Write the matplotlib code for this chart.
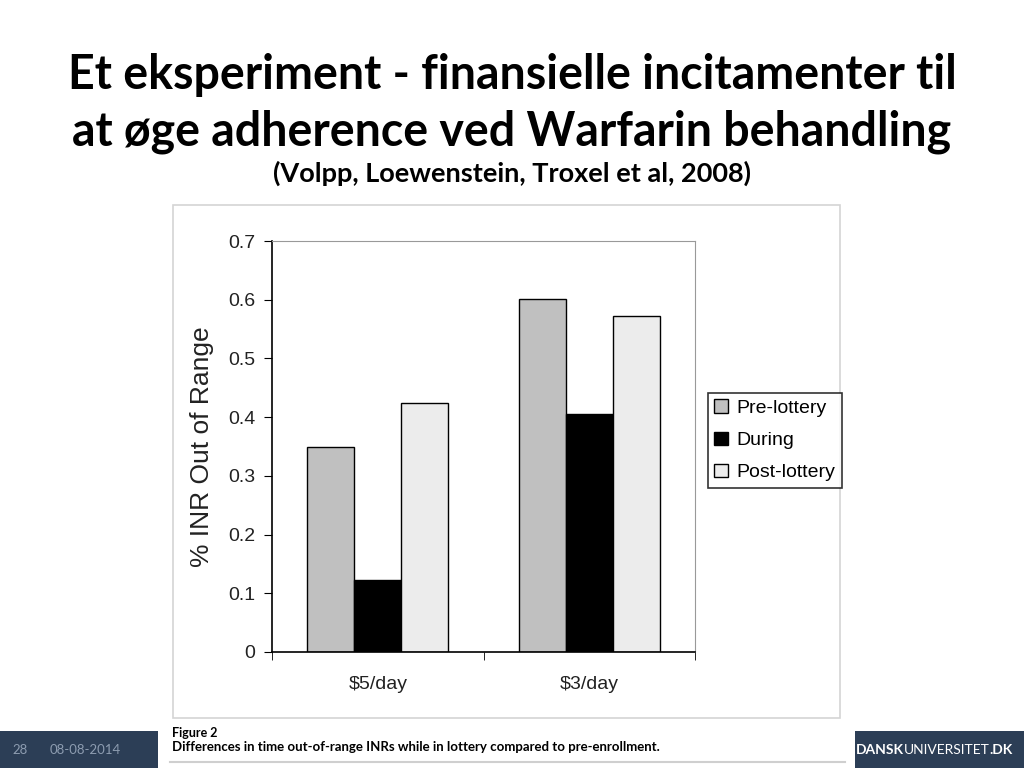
import numpy as np
import matplotlib
matplotlib.use("Agg")
import matplotlib.pyplot as plt
from matplotlib.patches import Rectangle

# Data
groups = ["$5/day", "$3/day"]
series = ["Pre-lottery", "During", "Post-lottery"]
pre_lottery = [0.349, 0.601]
during = [0.123, 0.406]
post_lottery = [0.424, 0.572]
colors = ["#c0c0c0", "#000000", "#ececec"]

fig = plt.figure(figsize=(10.24, 7.68), dpi=100)
fig.patch.set_facecolor("white")

# Title block
fig.text(0.5, 0.902, "Et eksperiment - finansielle incitamenter til",
         ha="center", va="center", fontsize=33.5, fontweight="bold", family="Lato")
fig.text(0.5, 0.829, "at øge adherence ved Warfarin behandling",
         ha="center", va="center", fontsize=33.5, fontweight="bold", family="Lato")
fig.text(0.5, 0.774, "(Volpp, Loewenstein, Troxel et al, 2008)",
         ha="center", va="center", fontsize=19.5, fontweight="bold", family="Lato")

# Footer bar
fig.add_artist(Rectangle((0, 0), 1, 37/768, transform=fig.transFigure,
                         facecolor="#2c3e56", edgecolor="none", zorder=0))
fig.text(12/1024, 18/768, "28", color="#8d9cb0", fontsize=9.5, va="center", family="Lato")
fig.text(50/1024, 18/768, "08-08-2014", color="#8d9cb0", fontsize=9.5, va="center", family="Lato")
foot = fig.text(856/1024, 18/768, "DANSK", color="white", fontsize=10, va="center",
                family="Lato", fontweight="bold")
fig.canvas.draw()
bb = foot.get_window_extent()
t2 = fig.text(bb.x1 / 1024, 18/768, "UNIVERSITET", color="white", fontsize=10,
              va="center", family="Lato")
fig.canvas.draw()
bb2 = t2.get_window_extent()
fig.text(bb2.x1 / 1024, 18/768, ".DK", color="white", fontsize=10,
         va="center", family="Lato", fontweight="bold")

# White area for the figure image and caption
fig.add_artist(Rectangle((158/1024, 0), 697/1024, 50/768, transform=fig.transFigure,
                         facecolor="white", edgecolor="none", zorder=1))
fig.add_artist(Rectangle((173/1024, 50/768), 667/1024, 513/768, transform=fig.transFigure,
                         facecolor="white", edgecolor="#d4d4d4", linewidth=1.2, zorder=1))
fig.add_artist(plt.Line2D([170/1024, 845/1024], [6/768, 6/768], transform=fig.transFigure,
                          color="#cfcfcf", linewidth=1.5, zorder=2))
fig.text(172/1024, 35/768, "Figure 2", fontsize=9, fontweight="bold",
         family="Lato", va="center", zorder=3)
fig.text(172/1024, 21/768,
         "Differences in time out-of-range INRs while in lottery compared to pre-enrollment.",
         fontsize=9.5, fontweight="bold", family="Lato", va="center", zorder=3)

# Chart
ax = fig.add_axes([272/1024, 116/768, 423/1024, 411/768], zorder=4)
x = np.arange(len(groups))
w = 0.222
for i, (name, vals) in enumerate(zip(series, [pre_lottery, during, post_lottery])):
    ax.bar(x + (i - 1) * w, vals, width=w, color=colors[i], edgecolor="black",
           linewidth=1.0, label=name)

ax.set_xlim(-0.5, 1.5)
ax.set_ylim(0, 0.7)
ax.set_yticks(np.arange(0, 0.71, 0.1))
ax.set_yticklabels(["0"] + [f"{v:.1f}" for v in np.arange(0.1, 0.71, 0.1)])
ax.set_xticks(x)
ax.set_xticklabels(groups)
ax.set_xticks([-0.5, 0.5, 1.5], minor=True)
ax.tick_params(axis="x", which="major", length=0, pad=17, labelsize=14)
ax.tick_params(axis="x", which="minor", length=6, direction="out")
ax.tick_params(axis="y", length=6, direction="out", labelsize=14, pad=6)
for lab in ax.get_xticklabels() + ax.get_yticklabels():
    lab.set_family("Liberation Sans")
    lab.set_color("#222222")

ax.spines["top"].set_color("#999999")
ax.spines["right"].set_color("#999999")
ax.spines["left"].set_linewidth(1.2)
ax.spines["bottom"].set_linewidth(1.2)
ax.set_ylabel("% INR Out of Range", fontsize=19, family="Liberation Sans",
              color="#222222", labelpad=10)

leg = ax.legend(loc="center left", bbox_to_anchor=(1.03, 0.515), frameon=True,
                fancybox=False, edgecolor="black",
                prop={"family": "Liberation Sans", "size": 14},
                handlelength=0.7, handleheight=0.7, handletextpad=0.4,
                borderpad=0.35, labelspacing=0.75, borderaxespad=0)
leg.get_frame().set_linewidth(1.2)

fig.savefig("out.png", dpi=100)
